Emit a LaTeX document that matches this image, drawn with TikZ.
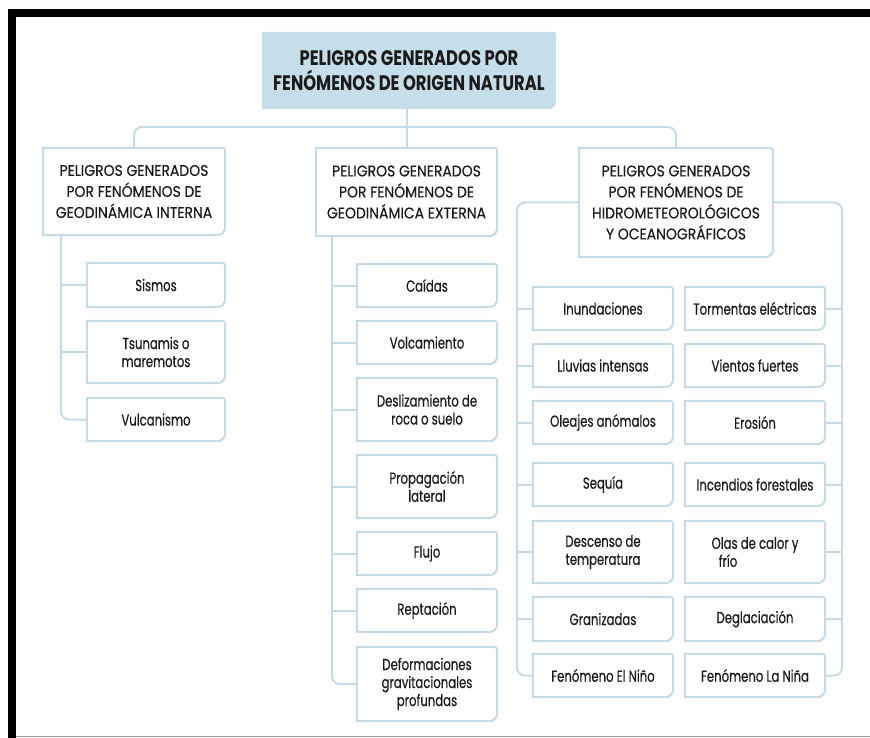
\documentclass[tikz,border=0pt]{standalone}
\usepackage{fontspec}
\setmainfont[FakeStretch=0.78]{Poppins}
\newfontfamily\leaffont[FakeStretch=0.73,FakeBold=0.4]{Poppins}
\newfontfamily\headfont[FakeStretch=0.9,FakeBold=0.3]{Poppins}
\usetikzlibrary{calc,backgrounds}
\definecolor{lnblue}{HTML}{C5DBEA}
\definecolor{ttlfill}{HTML}{C6DDEA}
\definecolor{txt}{HTML}{1A1A1A}
\tikzset{
 boxline/.style={draw=lnblue, line width=2pt},
 conn/.style={draw=lnblue, line width=2pt, rounded corners=8pt},
 bx/.style={inner sep=0pt, align=center, text=txt},
 leaf/.style={bx, font=\leaffont\fontsize{16}{18}\selectfont},
 head/.style={bx, font=\headfont\fontsize{15.5}{21}\selectfont},
 ttl/.style={bx, font=\fontsize{21}{25}\selectfont\bfseries},
}
\newcommand\outl[2]{%
 \path[boxline, fill=#2] (#1.south west) -- (#1.north west) -- ($(#1.north east)+(-3pt,0)$) arc[start angle=90,end angle=0,radius=3pt] -- ($(#1.south east)+(0,8pt)$) arc[start angle=0,end angle=-90,radius=8pt] -- cycle;}
\newcommand\mkbox[7]{%
 \node[#1, minimum width={(#5-#3)*1pt}, minimum height={(#6-#4)*1pt}] (#2) at ({(#3+#5)/2},{-(#4+#6)/2}) {#7};}
\begin{document}
\begin{tikzpicture}[x=1pt,y=1pt]
\useasboundingbox (0,0) rectangle (870,-738);
% frame
\fill[black] (8,-9) rectangle (870,-17);
\fill[black] (8,-9) rectangle (16,-738);
\draw[gray!80, line width=1.5pt] (16,-736.5) -- (870,-736.5);
% title
\mkbox{ttl}{title}{262}{32}{556}{109}{PELIGROS GENERADOS POR\\FENÓMENOS DE ORIGEN NATURAL}
\begin{pgfonlayer}{background}
 \path[fill=ttlfill] (title.south west) -- (title.north west) -- ($(title.north east)+(-3pt,0)$) arc[start angle=90,end angle=0,radius=3pt] -- ($(title.south east)+(0,8pt)$) arc[start angle=0,end angle=-90,radius=8pt] -- cycle;
\end{pgfonlayer}
% level 1
\mkbox{head}{A}{43}{148}{225}{235}{PELIGROS GENERADOS\\POR FENÓMENOS DE\\GEODINÁMICA INTERNA}
\mkbox{head}{B}{316}{148}{497}{236}{PELIGROS GENERADOS\\POR FENÓMENOS DE\\GEODINÁMICA EXTERNA}
\mkbox{head}{C}{579}{148}{773}{257}{PELIGROS GENERADOS\\POR FENÓMENOS DE\\HIDROMETEOROLÓGICOS\\Y OCEANOGRÁFICOS}
\outl{A}{none}\outl{B}{none}\outl{C}{none}
% column A
\mkbox{leaf}{sis}{87}{263}{225}{307}{Sismos}
\mkbox{leaf}{tsu}{87}{321}{225}{383}{Tsunamis o\\maremotos}
\mkbox{leaf}{vul}{87}{398}{225}{441}{Vulcanismo}
\outl{sis}{none}\outl{tsu}{none}\outl{vul}{none}
% column B
\mkbox{leaf}{cai}{357}{264}{497}{307}{Caídas}
\mkbox{leaf}{vol}{357}{321}{497}{364}{Volcamiento}
\mkbox{leaf}{des}{357}{378}{497}{441}{Deslizamiento de\\roca o suelo}
\mkbox{leaf}{pro}{357}{455}{497}{518}{Propagación\\lateral}
\mkbox{leaf}{flu}{357}{532}{497}{575}{Flujo}
\mkbox{leaf}{rep}{357}{589}{497}{632}{Reptación}
\mkbox{leaf}{def}{357}{647}{497}{721}{Deformaciones\\gravitacionales\\profundas}
\foreach \n in {cai,vol,des,pro,flu,rep,def}{\outl{\n}{none}}
% column C left
\mkbox{leaf}{inu}{533}{287}{673}{330}{Inundaciones}
\mkbox{leaf}{llu}{533}{344}{673}{387}{Lluvias intensas}
\mkbox{leaf}{ole}{533}{401}{673}{444}{Oleajes anómalos}
\mkbox{leaf}{seq}{533}{463}{673}{506}{Sequía}
\mkbox{leaf}{dte}{533}{521}{673}{583}{Descenso de\\temperatura}
\mkbox{leaf}{gra}{533}{597}{673}{641}{Granizadas}
\mkbox{leaf}{nin}{533}{654}{673}{697}{Fenómeno El Niño}
\foreach \n in {inu,llu,ole,seq,dte,gra,nin}{\outl{\n}{none}}
% column C right
\mkbox{leaf}{tor}{685}{287}{825}{330}{Tormentas eléctricas}
\mkbox{leaf}{vie}{685}{344}{825}{387}{Vientos fuertes}
\mkbox{leaf}{ero}{685}{401}{825}{444}{Erosión}
\mkbox{leaf}{inc}{685}{463}{825}{506}{Incendios forestales}
\mkbox{leaf}{ola}{685}{521}{825}{583}{Olas de calor y\\\hspace*{-54pt}frío}
\mkbox{leaf}{deg}{685}{597}{825}{641}{Deglaciación}
\mkbox{leaf}{lan}{685}{654}{825}{697}{Fenómeno La Niña}
\foreach \n in {tor,vie,ero,inc,ola,deg,lan}{\outl{\n}{none}}
% connectors
\coordinate (bus) at (0,-127);
\draw[conn] (B.north |- title.south) -- (B.north);
\draw[conn] (A.north) -- (A.north |- bus) -- (C.north |- bus) -- (C.north);
\coordinate (tA) at (61,-235);
\draw[conn] (tA) -- (tA |- vul.west) -- (vul.west);
\foreach \n in {sis,tsu}{\draw[conn] (tA |- \n.west) -- (\n.west);}
\coordinate (tB) at (332,-236);
\draw[conn] (tB) -- (tB |- def.west) -- (def.west);
\foreach \n in {cai,vol,des,pro,flu,rep}{\draw[conn] (tB |- \n.west) -- (\n.west);}
\coordinate (cL) at (517,0);
\draw[conn] (C.west) -- (C.west -| cL) -- (cL |- nin.west) -- (nin.west);
\foreach \n in {inu,llu,ole,seq,dte,gra}{\draw[conn] (cL |- \n.west) -- (\n.west);}
\coordinate (cR) at (842,0);
\draw[conn] (C.east) -- (C.east -| cR) -- (cR |- lan.east) -- (lan.east);
\foreach \n in {tor,vie,ero,inc,ola,deg}{\draw[conn] (cR |- \n.east) -- (\n.east);}
\end{tikzpicture}
\end{document}
